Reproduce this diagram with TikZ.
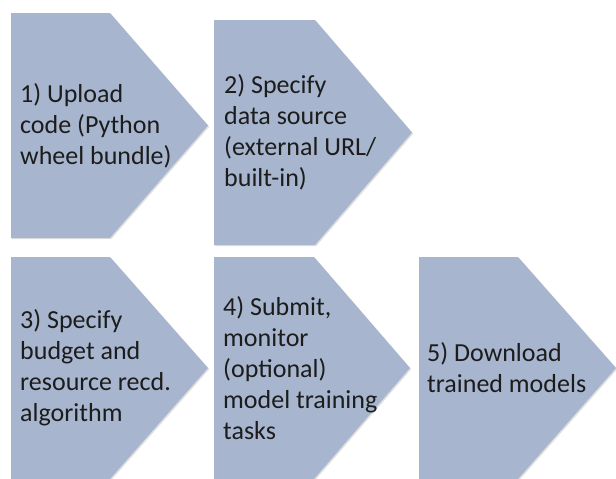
\documentclass[tikz,border=0pt]{standalone}
\usepackage{fontspec}
\setmainfont{Carlito}
\usetikzlibrary{shadows}
\definecolor{stepfill}{HTML}{A7B6CE}
\definecolor{steptext}{HTML}{1C1C1C}
\tikzset{
  chevron/.style={fill=stepfill,
    drop shadow={shadow xshift=1.2pt,shadow yshift=-1.2pt,opacity=0.25}},
  steplabel/.style={anchor=west,align=left,inner sep=0pt,text=steptext,
    font=\fontsize{26}{31}\selectfont}
}
\begin{document}
\begin{tikzpicture}[x=1pt,y=-1pt]
  \useasboundingbox (0,0) rectangle (616,479);
  % Step 1: upload
  \fill[chevron] (11,13) -- (110,13) -- (208,125.5) -- (110,238) -- (11,238) -- cycle;
  \node[steplabel] (upload) at (20,125.5) {1) Upload\\code (Python\\wheel bundle)};
  % Step 2: data source
  \fill[chevron] (214,20) -- (315,20) -- (412,132.5) -- (315,245) -- (214,245) -- cycle;
  \node[steplabel] (source) at (224,132.5) {2) Specify\\data source\\(external URL/\\built-in)};
  % Step 3: budget
  \fill[chevron] (11,257) -- (110,257) -- (208,368) -- (110,479) -- (11,479) -- cycle;
  \node[steplabel] (budget) at (20,368) {3) Specify\\budget and\\resource recd.\\algorithm};
  % Step 4: submit and monitor
  \fill[chevron] (214,257) -- (314,257) -- (410,368) -- (314,479) -- (214,479) -- cycle;
  \node[steplabel] (submit) at (223,368) {4) Submit,\\monitor\\(optional)\\model training\\tasks};
  % Step 5: download
  \fill[chevron] (419,257) -- (518,257) -- (616,368) -- (518,479) -- (419,479) -- cycle;
  \node[steplabel] (download) at (427,368) {5) Download\\trained models};
\end{tikzpicture}
\end{document}
